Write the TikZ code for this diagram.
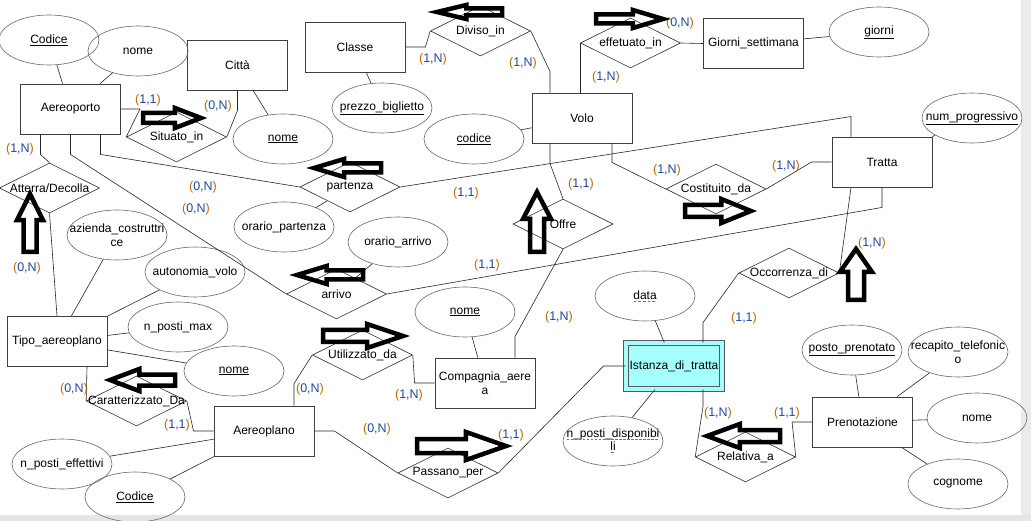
\documentclass[tikz,border=0pt]{standalone}
\usepackage{fontspec}
\setmainfont{Liberation Sans}
\usetikzlibrary{positioning,shapes.geometric}
\definecolor{weakfill}{RGB}{166,255,255}
\definecolor{cpar}{RGB}{191,105,0}
\definecolor{cnum}{RGB}{31,73,160}
\def\ew{100pt}
\def\eh{50pt}
\newsavebox{\dulbox}
\newcommand{\dashul}[1]{\sbox{\dulbox}{#1}\leavevmode\rlap{\usebox{\dulbox}}%
  \raisebox{-2.2pt}{\hbox to \wd\dulbox{\xleaders\hbox{\textcolor{black!55}{\rule{2.5pt}{0.8pt}}\hspace{1.5pt}}\hfill}}}
\tikzstyle{entity}=[draw=black!75,line width=0.9pt,rectangle,minimum width=\ew,minimum height=\eh,inner sep=1pt,align=center]
\tikzstyle{weak}=[draw=black!65,line width=1.2pt,double=weakfill,double distance=4pt,fill=weakfill,minimum width=95.6pt,minimum height=45.6pt,inner sep=0pt]
\tikzstyle{rel}=[draw=black!80,diamond,minimum width=\ew,minimum height=\eh,inner sep=0pt]
\tikzstyle{attr}=[draw=black!60,ellipse,minimum width=\ew,minimum height=\eh,inner sep=0pt]
\tikzstyle{card}=[inner sep=0pt,font=\fontsize{12.5}{14}\selectfont]
\tikzstyle{fatline}=[draw=black,line width=4.5pt,line join=miter]
\newcommand{\newEntity}[4]{\node[entity,#4](#1) at (#3){#2};}
\newcommand{\newRel}[3]{\node[rel,label={[align=center]center:#2}](#1) at (#3){};}
\newcommand{\newAttr}[3]{\node[attr,label={[align=center]center:#2}](#1) at (#3){};}
\newcommand{\newCard}[3]{\node[card](#1) at (#3){\textcolor{cpar}{(}\textcolor{cnum}{#2}\textcolor{cpar}{)}};}
\newcommand{\newLink}[2]{\draw (#1) -- (#2);}
\tikzset{pics/bigarrow/.style 2 args={code={
  \draw[fatline] (0,{-#2/2}) -- ({0.55*#1},{-#2/2}) -- ({0.55*#1},-#2) -- (#1,0)
    -- ({0.55*#1},#2) -- ({0.55*#1},{#2/2}) -- (0,{#2/2}) -- cycle;
}}}

\begin{document}
\begin{tikzpicture}[x=1pt,y=-1pt,
    font=\fontsize{12}{13.5}\selectfont,
    line width=0.6pt,draw=black!85
    ]
    \fill[white] (0,0) rectangle (1031,521);
    \useasboundingbox (0,0) rectangle (1031,521);
    \fill[black!8] (1021,0) rectangle (1031,521);
    \fill[black!10] (0,515) rectangle (1031,521);

    % entities
    \newEntity{aero}{Aereoporto}{70.5,109}{}
    \newEntity{citta}{Città}{237.5,65}{}
    \newEntity{classe}{Classe}{355,47}{}
    \newEntity{volo}{Volo}{582,118}{}
    \newEntity{giorniS}{Giorni\_settimana}{753.5,43.5}{}
    \newEntity{tratta}{Tratta}{882,162}{}
    \newEntity{tipo}{Tipo\_aereoplano}{57,341.5}{}
    \newEntity{comp}{Compagnia\_aere\\a}{485,383}{}
    \newEntity{aereo}{Aereoplano}{264,431}{}
    \newEntity{ist}{Istanza\_di\_tratta}{674,366}{weak}
    \newEntity{pren}{Prenotazione}{862.5,422}{}

    % relationships
    \newRel{sit}{Situato\_in}{176.5,137}
    \newRel{div}{Diviso\_in}{480.5,31}
    \newRel{eff}{effetuato\_in}{630.5,43}
    \newRel{att}{Atterra/Decolla}{49.5,188}
    \newRel{par}{partenza}{350,187}
    \newRel{off}{Offre}{563,224}
    \newRel{cost}{Costituito\_da}{716,189}
    \newRel{arr}{arrivo}{336.5,294}
    \newRel{occ}{Occorrenza\_di}{789,273}
    \newRel{uti}{Utilizzato\_da}{362.5,355}
    \newRel{car}{Caratterizzato\_Da}{136.5,401}
    \newRel{pas}{Passano\_per}{448,473}
    \newRel{rela}{Relativa\_a}{745.5,457}

    % attributes
    \newAttr{codA}{\underline{Codice}}{49,40}
    \newAttr{nomA}{nome}{138,51}
    \newAttr{nomC}{\underline{nome}}{283,139}
    \newAttr{prezzo}{\underline{prezzo\_biglietto}}{382,108}
    \newAttr{codV}{\underline{codice}}{474,139}
    \newAttr{giorni}{\underline{giorni}}{879,32}
    \newAttr{numprog}{\underline{num\_progressivo}}{972,118}
    \newAttr{orPar}{orario\_partenza}{284,227}
    \newAttr{orArr}{orario\_arrivo}{398,242}
    \newAttr{azienda}{azienda\_costruttri\\ce}{117,235}
    \newAttr{autonomia}{autonomia\_volo}{195,272}
    \newAttr{postiMax}{n\_posti\_max}{178,327}
    \newAttr{nomT}{\underline{nome}}{234,371}
    \newAttr{postiEff}{n\_posti\_effettivi}{62,464}
    \newAttr{codAe}{\underline{Codice}}{135,497}
    \newAttr{nomComp}{\underline{nome}}{465,312}
    \newAttr{data}{\dashul{data}}{645,296}
    \newAttr{postiDisp}{\dashul{n\_posti\_disponibi}\\\dashul{li}}{613,441}
    \newAttr{posto}{\underline{posto\_prenotato}}{852,350}
    \newAttr{recapito}{recapito\_telefonic\\o}{958,352}
    \newAttr{nomP}{nome}{977,418}
    \newAttr{cognome}{cognome}{958,484}

    % attribute links
    \newLink{codA}{aero}
    \newLink{nomA}{aero}
    \newLink{nomC}{citta}
    \newLink{prezzo}{classe}
    \newLink{codV}{volo}
    \newLink{giorni}{giorniS}
    \newLink{tratta.north east}{numprog}
    \newLink{orPar}{par}
    \newLink{orArr}{arr}
    \newLink{azienda}{tipo}
    \newLink{autonomia}{tipo}
    \newLink{postiMax}{tipo}
    \newLink{nomT}{tipo}
    \newLink{postiEff}{aereo}
    \newLink{codAe}{aereo}
    \newLink{nomComp}{comp}
    \newLink{data}{ist}
    \newLink{postiDisp}{ist}
    \newLink{posto}{pren}
    \newLink{recapito}{pren}
    \newLink{nomP}{pren}
    \newLink{cognome}{pren}

    % relationship links
    \draw (aero.east) -- ++(19,0) -- (sit.west);
    \draw (citta.south) -- ++(0,20) -- (sit.east);
    \draw ([xshift=-30]aero.south) -- ++(0,20) -- (att.north);
    \draw (aero.south) -- ++(0,20) -- (arr.west);
    \draw ([xshift=30]aero.south) -- ++(0,20) -- (par.west);
    \draw (par.east) -- ([xshift=-31,yshift=20]tratta.north) -- ([xshift=-31]tratta.north);
    \draw (arr.east) -- ([yshift=-20]tratta.south) -- (tratta.south);
    \draw (classe.east) -- ++(20,0) -- (div.west);
    \draw (div.east) -- ([xshift=-32,yshift=21]volo.north) -- ([xshift=-32]volo.north);
    \draw (eff.west) -- (eff.west |- volo.north);
    \draw (eff.east) -- (giorniS.west);
    \draw ([xshift=30]volo.south) -- ++(0,19) -- (cost.west);
    \draw (cost.east) -- ([xshift=-20]tratta.west) -- (tratta.west);
    \draw ([xshift=-32]volo.south) -- ++(0,20) -- (off.north);
    \draw (off.south) -- ([xshift=30,yshift=21]comp.north) -- ([xshift=30]comp.north);
    \draw (tipo.north) -- (att.south);
    \draw ([xshift=30]tipo.south) -- (car.west);
    \draw (car.east) -- ([xshift=-20]aereo.west) -- (aereo.west);
    \draw ([xshift=30]aereo.north) -- ++(0,-22) -- (uti.west);
    \draw (uti.east) -- ([xshift=-20]comp.west) -- (comp.west);
    \draw (aereo.east) -- ++(20,0) -- (pas.west);
    \draw (pas.east) -- ([xshift=-22]ist.west) -- (ist.west);
    \draw ([xshift=29]ist.north) -- ++(0,-20) -- (occ.west);
    \draw (occ.east) -- ([xshift=-31]tratta.south);
    \draw ([xshift=29]ist.south) -- ++(0,17) -- (rela.west);
    \draw (rela.east) -- ([xshift=-20]pren.west) -- (pren.west);

    % cardinalities
    \newCard{cSitAer}{1,1}{148,100}
    \newCard{cSitCit}{0,N}{218,106}
    \newCard{cAttAer}{1,N}{20,149}
    \newCard{cDivCla}{1,N}{433,59}
    \newCard{cDivVol}{1,N}{523,63}
    \newCard{cEffGio}{0,N}{680,23}
    \newCard{cEffVol}{1,N}{606,77}
    \newCard{cCosVol}{1,N}{667,170}
    \newCard{cCosTra}{1,N}{786,166}
    \newCard{cParAer}{0,N}{203,187}
    \newCard{cArrAer}{0,N}{196,209}
    \newCard{cAttTip}{0,N}{27,268}
    \newCard{cParTra}{1,1}{466,193}
    \newCard{cOffVol}{1,1}{581,184}
    \newCard{cArrTra}{1,1}{487,265}
    \newCard{cOffCom}{1,N}{559,317}
    \newCard{cOccTra}{1,N}{872,243}
    \newCard{cOccIst}{1,1}{744,318}
    \newCard{cCarTip}{0,N}{74,389}
    \newCard{cCarAer}{1,1}{177,425}
    \newCard{cUtiAer}{0,N}{310,389}
    \newCard{cUtiCom}{1,N}{409,395}
    \newCard{cPasAer}{0,N}{377,429}
    \newCard{cPasIst}{1,1}{511,435}
    \newCard{cRelIst}{1,N}{718,413}
    \newCard{cRelPre}{1,1}{787,413}

    % hand drawn arrows
    \pic (arrSit) at (143,118) {bigarrow={58}{10}};
    \pic[rotate=180] (arrDiv) at (502,12) {bigarrow={65}{7}};
    \pic (arrEff) at (596,19) {bigarrow={67}{9}};
    \pic[rotate=180] (arrPar) at (381,168) {bigarrow={67}{9}};
    \pic (arrCost) at (685,211) {bigarrow={66}{12}};
    \pic[rotate=90] (arrAtt) at (30,252) {bigarrow={58}{13}};
    \pic[rotate=90] (arrOff) at (537,252) {bigarrow={60}{14}};
    \pic[rotate=180] (arrArr) at (363,275) {bigarrow={66}{9}};
    \pic[rotate=90] (arrOcc) at (856,300) {bigarrow={51}{16}};
    \pic (arrUti) at (323,336) {bigarrow={80}{12}};
    \pic[rotate=180] (arrCar) at (175,380) {bigarrow={65}{11}};
    \pic (arrPas) at (417,446) {bigarrow={89}{14}};
    \pic[rotate=180] (arrRel) at (780,436) {bigarrow={73}{12}};
  \end{tikzpicture}
\end{document}
